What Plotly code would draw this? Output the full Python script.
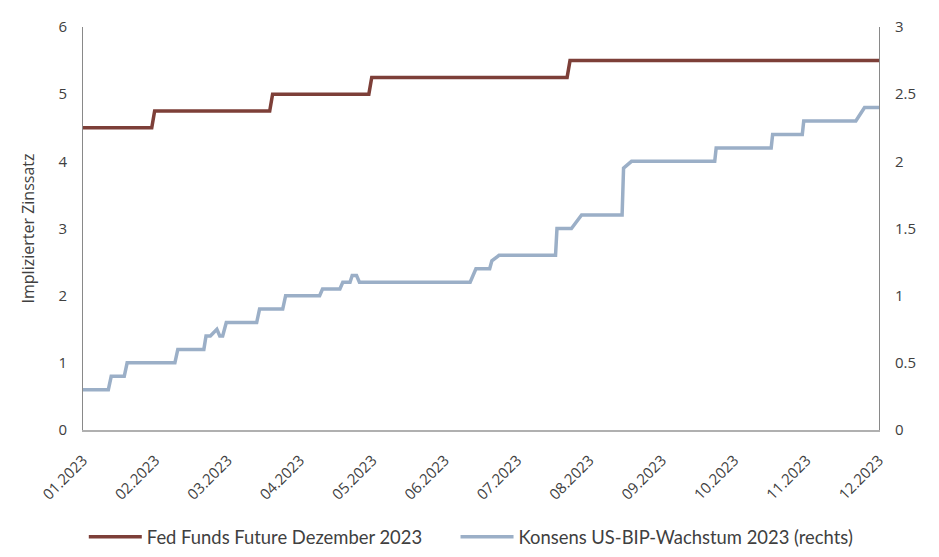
import plotly.graph_objects as go

month_labels = ["01.2023", "02.2023", "03.2023", "04.2023", "05.2023", "06.2023",
                "07.2023", "08.2023", "09.2023", "10.2023", "11.2023", "12.2023"]

# x in months since 01.2023
fed_x = [0, 0.95, 0.99, 2.58, 2.62, 3.95, 3.99, 6.69, 6.73, 11]
fed_y = [4.5, 4.5, 4.75, 4.75, 5.0, 5.0, 5.25, 5.25, 5.5, 5.5]

gdp_x = [0, 0.35, 0.39, 0.57, 0.61, 1.27, 1.31, 1.67, 1.70, 1.76, 1.85, 1.89, 1.93, 1.98,
         2.40, 2.44, 2.76, 2.80, 3.27, 3.31, 3.55, 3.59, 3.69, 3.72, 3.78, 3.82,
         5.35, 5.43, 5.62, 5.65, 5.75, 6.53, 6.55, 6.75, 6.89, 7.45, 7.47, 7.58,
         8.73, 8.75, 9.51, 9.53, 9.94, 9.96, 10.68, 10.80, 11]
gdp_y = [0.3, 0.3, 0.4, 0.4, 0.5, 0.5, 0.6, 0.6, 0.7, 0.7, 0.75, 0.7, 0.7, 0.8,
         0.8, 0.9, 0.9, 1.0, 1.0, 1.05, 1.05, 1.1, 1.1, 1.15, 1.15, 1.1,
         1.1, 1.2, 1.2, 1.26, 1.3, 1.3, 1.5, 1.5, 1.6, 1.6, 1.95, 2.0,
         2.0, 2.1, 2.1, 2.2, 2.2, 2.3, 2.3, 2.4, 2.4]

fig = go.Figure()
fig.add_trace(go.Scatter(x=fed_x, y=fed_y, mode="lines", name="Fed Funds Future Dezember 2023",
                         line=dict(color="#7d3f38", width=3.5), legend="legend"))
fig.add_trace(go.Scatter(x=gdp_x, y=gdp_y, mode="lines", name="Konsens US-BIP-Wachstum 2023 (rechts)",
                         line=dict(color="#9bafc7", width=3.5), yaxis="y2", legend="legend2"))

font_c = "#404040"
clear = "rgba(0,0,0,0)"
leg_common = dict(orientation="h", xanchor="left", y=-0.265, yanchor="middle",
                  font=dict(family="Lato", size=18.4, color=font_c), itemwidth=53)
fig.update_layout(
    width=939, height=557,
    margin=dict(l=75, r=68, t=19, b=135, autoexpand=False),
    paper_bgcolor="white", plot_bgcolor="white",
    font=dict(family="Open Sans", size=15, color=font_c),
    showlegend=True,
    legend=dict(x=0.001, **leg_common),
    legend2=dict(x=0.468, **leg_common),
    xaxis=dict(range=[0, 11], tickmode="array", tickvals=list(range(12)), ticktext=month_labels,
               tickangle=-45, showgrid=False, zeroline=False, showline=True, automargin=False,
               linecolor="#b0b0b0", linewidth=1.5, ticks="outside", ticklen=14, tickcolor=clear,
               tickfont=dict(size=15, color=font_c)),
    yaxis=dict(range=[0, 6], dtick=1, showgrid=False, zeroline=False, showline=True, automargin=False,
               linecolor="#898989", linewidth=1, ticks="outside", ticklen=12, tickcolor=clear,
               title=dict(text="Implizierter Zinssatz", font=dict(size=16, color=font_c), standoff=19),
               tickfont=dict(size=15, color=font_c)),
    yaxis2=dict(range=[0, 3], dtick=0.5, overlaying="y", side="right", showgrid=False, automargin=False,
                zeroline=False, showline=True, linecolor="#898989", linewidth=1,
                ticks="outside", ticklen=12, tickcolor=clear,
                tickfont=dict(size=15, color=font_c)),
)

fig.write_html("out.html")
